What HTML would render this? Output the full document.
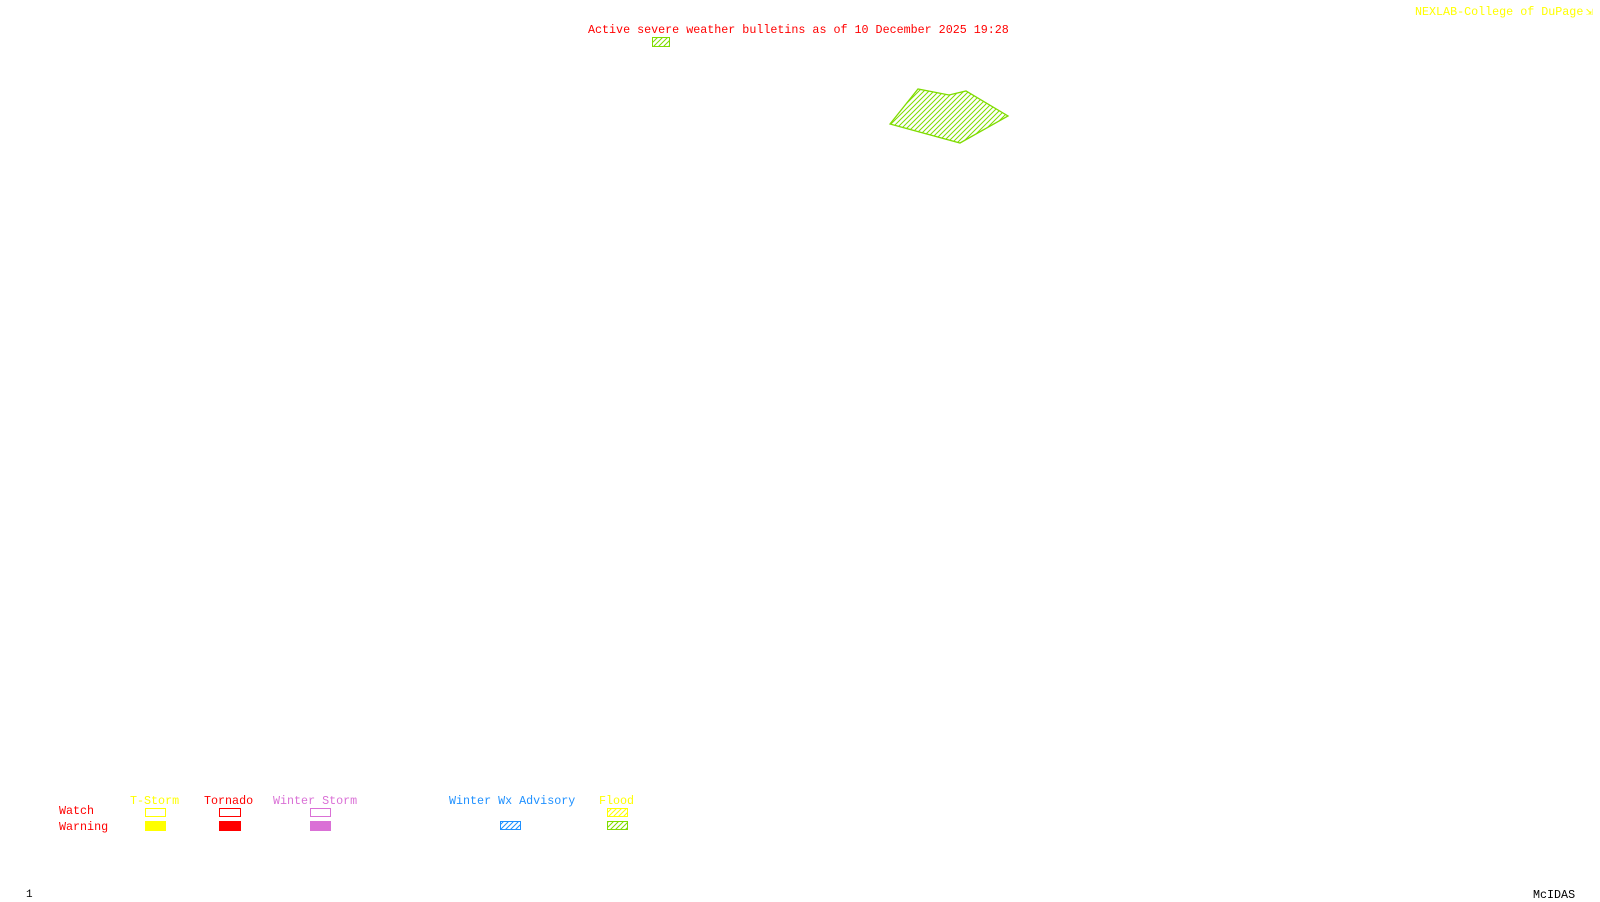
<!DOCTYPE html>
<html><head><meta charset="utf-8"><style>
html,body{margin:0;padding:0;background:#fff;}
body{width:1600px;height:900px;position:relative;overflow:hidden;font-family:"Liberation Mono","DejaVu Sans Mono",monospace;}
.t{position:absolute;white-space:nowrap;line-height:1;}
.l{font-size:11.7px;}
</style></head><body>
<svg width="1600" height="900" style="position:absolute;left:0;top:0">
<defs>
<pattern id="hg" patternUnits="userSpaceOnUse" width="5" height="5">
<path d="M-1,6 L6,-1 M-1,1 L1,-1 M4,6 L6,4" stroke="#7fdc00" stroke-width="1"/>
</pattern>
<pattern id="hy" patternUnits="userSpaceOnUse" width="5" height="5">
<path d="M-1,6 L6,-1 M-1,1 L1,-1 M4,6 L6,4" stroke="#ffff00" stroke-width="1"/>
</pattern>
<pattern id="hb" patternUnits="userSpaceOnUse" width="5" height="5">
<path d="M-1,6 L6,-1 M-1,1 L1,-1 M4,6 L6,4" stroke="#1e90ff" stroke-width="1"/>
</pattern>
</defs>
<polygon points="890,124 918,89 949,95 966,91 1008,116 960,143" fill="url(#hg)" stroke="#7fdc00" stroke-width="1.3"/>
<rect x="652.5" y="37.5" width="17" height="9" fill="url(#hg)" stroke="#7fdc00"/>
<rect x="145.5" y="808.5" width="20" height="8" fill="none" stroke="#ffff00"/>
<rect x="145" y="821" width="21" height="10" fill="#ffff00"/>
<rect x="219.5" y="808.5" width="21" height="8" fill="none" stroke="#ff0000"/>
<rect x="219" y="821" width="22" height="10" fill="#ff0000"/>
<rect x="310.5" y="808.5" width="20" height="8" fill="none" stroke="#da70d6"/>
<rect x="310" y="821" width="21" height="10" fill="#da70d6"/>
<rect x="500.5" y="821.5" width="20" height="8" fill="url(#hb)" stroke="#1e90ff"/>
<rect x="607.5" y="808.5" width="20" height="8" fill="url(#hy)" stroke="#ffff00"/>
<rect x="607.5" y="821.5" width="20" height="8" fill="url(#hg)" stroke="#7fdc00"/>
</svg>
<div class="t" style="left:588px;top:25px;font-size:11.7px;color:#ff0000;">Active severe weather bulletins as of 10 December 2025 19:28</div>
<div class="t l" style="left:1415px;top:7px;color:#ffff00;">NEXLAB-College of DuPage</div>
<div class="t l" style="left:1586px;top:7px;color:#ffff00;">&#8690;</div>
<div class="t l" style="left:59px;top:806px;color:#ff0000;">Watch</div>
<div class="t l" style="left:59px;top:822px;color:#ff0000;">Warning</div>
<div class="t l" style="left:130px;top:796px;color:#ffff00;">T-Storm</div>
<div class="t l" style="left:204px;top:796px;color:#ff0000;">Tornado</div>
<div class="t l" style="left:273px;top:796px;color:#da70d6;">Winter Storm</div>
<div class="t l" style="left:449px;top:796px;color:#1e90ff;">Winter Wx Advisory</div>
<div class="t l" style="left:599px;top:796px;color:#ffff00;">Flood</div>
<div class="t" style="left:26px;top:890px;font-size:11px;color:#000;">1</div>
<div class="t" style="left:1533px;top:890px;font-size:11.7px;color:#000;">McIDAS</div>
</body></html>
